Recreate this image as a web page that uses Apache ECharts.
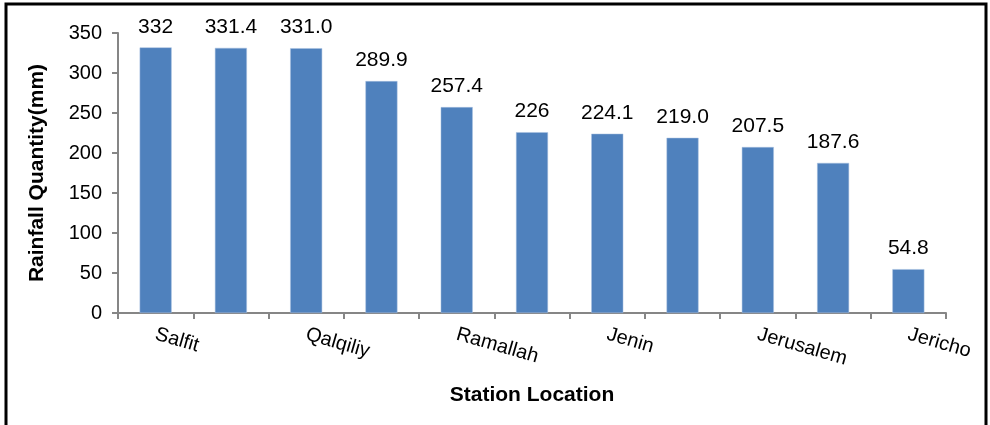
<!DOCTYPE html>
<html>
<head>
<meta charset="utf-8">
<script src="https://cdn.jsdelivr.net/npm/echarts@6/dist/echarts.min.js"></script>
<style>
html,body{margin:0;padding:0;background:#fff;}
#c{width:990px;height:425px;}
</style>
</head>
<body>
<div id="c"></div>
<script>
const categories = ["Salfit", "Nablus", "Qalqiliy", "Tulkarm", "Ramallah", "Tubas", "Jenin", "Bethlehem", "Jerusalem", "Hebron", "Jericho"];
const rainfall = [332, 331.4, 331.0, 289.9, 257.4, 226, 224.1, 219.0, 207.5, 187.6, 54.8];
const valueLabels = ["332", "331.4", "331.0", "289.9", "257.4", "226", "224.1", "219.0", "207.5", "187.6", "54.8"];
const yTicks = [0, 50, 100, 150, 200, 250, 300, 350];

const chart = echarts.init(document.getElementById('c'), null, {renderer: 'canvas'});
const font = "'Liberation Sans', Arial, sans-serif";
chart.setOption({
  animation: false,
  backgroundColor: '#fff',
  grid: {left: 118, right: 44, top: 33, bottom: 112, containLabel: false},
  xAxis: {
    type: 'category',
    data: categories,
    name: 'Station Location',
    nameLocation: 'middle',
    nameGap: 72,
    nameTextStyle: {fontFamily: font, fontSize: 21, fontWeight: 'bold', color: '#000'},
    axisLine: {lineStyle: {color: '#868686', width: 2}},
    axisTick: {show: true, interval: 0, length: 6, lineStyle: {color: '#868686', width: 2}},
    axisLabel: {interval: 1, rotate: -16, margin: 21, fontFamily: font, fontSize: 20, color: '#000'}
  },
  yAxis: {
    type: 'value',
    min: yTicks[0],
    max: yTicks[yTicks.length - 1],
    interval: 50,
    name: 'Rainfall Quantity(mm)',
    nameLocation: 'middle',
    nameGap: 70,
    nameTextStyle: {fontFamily: font, fontSize: 21, fontWeight: 'bold', color: '#000'},
    splitLine: {show: false},
    axisLine: {show: true, lineStyle: {color: '#868686', width: 2}},
    axisTick: {show: true, length: 6, lineStyle: {color: '#868686', width: 2}},
    axisLabel: {margin: 16, fontFamily: font, fontSize: 20, color: '#000'}
  },
  series: [{
    type: 'bar',
    data: rainfall,
    barWidth: '42.5%',
    itemStyle: {color: '#4F81BD', borderColor: '#a9c1e0', borderWidth: 0.5},
    label: {
      show: true,
      position: 'top',
      distance: 10,
      fontFamily: font,
      fontSize: 21,
      color: '#000',
      formatter: p => valueLabels[p.dataIndex]
    }
  }],
  graphic: [
    {type: 'rect', shape: {x: 6, y: 4, width: 980, height: 440}, style: {fill: 'none', stroke: '#000', lineWidth: 3}, silent: true}
  ]
});
</script>
</body>
</html>
